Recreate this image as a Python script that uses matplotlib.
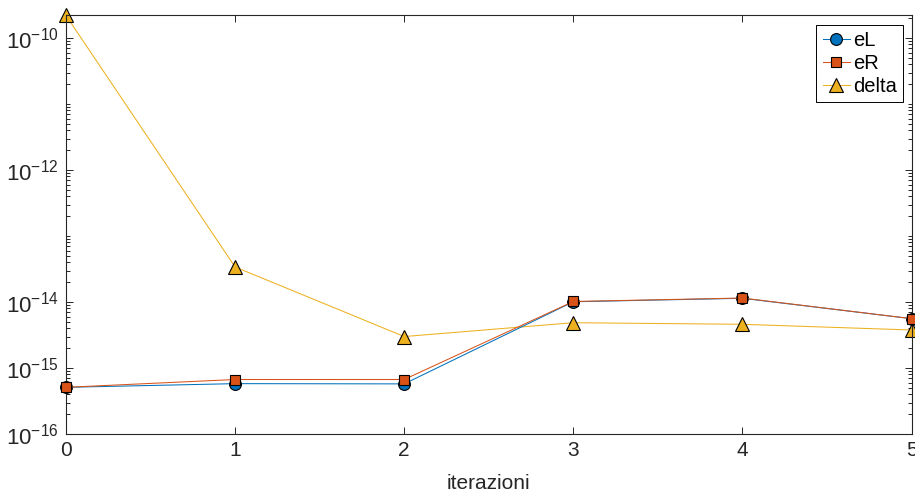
import numpy as np
import matplotlib
matplotlib.use('Agg')
import matplotlib.pyplot as plt
from matplotlib.ticker import LogLocator, FixedLocator, NullFormatter

plt.rcParams['font.family'] = ['Liberation Sans', 'DejaVu Sans']
plt.rcParams['mathtext.fontset'] = 'custom'
plt.rcParams['mathtext.rm'] = 'Liberation Sans'
plt.rcParams['mathtext.it'] = 'Liberation Sans'
plt.rcParams['mathtext.default'] = 'regular'

# errors per iteration
iterazioni = [0, 1, 2, 3, 4, 5]
eL = [5.1e-16, 5.8e-16, 5.75e-16, 1.01e-14, 1.14e-14, 5.6e-15]
eR = [5.1e-16, 6.7e-16, 6.7e-16, 1.02e-14, 1.15e-14, 5.6e-15]
delta = [2.2e-10, 3.4e-14, 3.0e-15, 4.86e-15, 4.6e-15, 3.77e-15]

c_eL = (0.0, 0.447, 0.741)
c_eR = (0.85, 0.325, 0.098)
c_delta = (0.929, 0.694, 0.125)
ax_col = (0.15, 0.15, 0.15)

fig = plt.figure(figsize=(9.15, 4.95), dpi=100)
ax = fig.add_axes([0.0721, 0.1232, 0.9241, 0.8455])

ax.semilogy(iterazioni, eL, '-o', color=c_eL, mfc=c_eL, mec='k', mew=0.8,
            ms=8.5, lw=0.75, clip_on=False, label='eL', zorder=3)
ax.semilogy(iterazioni, eR, '-s', color=c_eR, mfc=c_eR, mec='k', mew=0.8,
            ms=7.5, lw=0.75, clip_on=False, label='eR', zorder=4)
ax.semilogy(iterazioni, delta, '-^', color=c_delta, mfc=c_delta, mec='k', mew=0.8,
            ms=10.5, lw=0.75, clip_on=False, label='delta', zorder=2)

ax.set_xlim(0, 5)
ax.set_ylim(1e-16, max(delta))
ax.set_xticks(iterazioni)

ax.yaxis.set_major_locator(FixedLocator([1e-16, 1e-15, 1e-14, 1e-12, 1e-10]))
ax.yaxis.set_minor_locator(LogLocator(base=10, subs=np.arange(1, 10)))
ax.yaxis.set_minor_formatter(NullFormatter())
ax.set_yticklabels(['$10^{-16}$', '$10^{-15}$', '$10^{-14}$', '$10^{-12}$', '$10^{-10}$'])

ax.tick_params(which='both', direction='in', top=True, right=True,
               colors=ax_col, labelcolor=ax_col, width=0.7)
ax.tick_params(axis='x', labelsize=15)
ax.tick_params(axis='y', labelsize=16)
ax.tick_params(which='major', length=5, pad=5)
ax.tick_params(which='minor', length=3)
for s in ax.spines.values():
    s.set_color(ax_col)
    s.set_linewidth(0.8)

ax.set_xlabel('iterazioni', fontsize=15, color=ax_col, labelpad=10)

leg = ax.legend(loc='upper right', bbox_to_anchor=(0.9895, 0.978), fontsize=14.5,
                handlelength=1.35, handletextpad=0.15, borderpad=0.3,
                labelspacing=0.2, borderaxespad=0, fancybox=False,
                framealpha=1)
leg.get_frame().set_edgecolor('k')
leg.get_frame().set_linewidth(0.7)

fig.savefig('out.png', dpi=100)
